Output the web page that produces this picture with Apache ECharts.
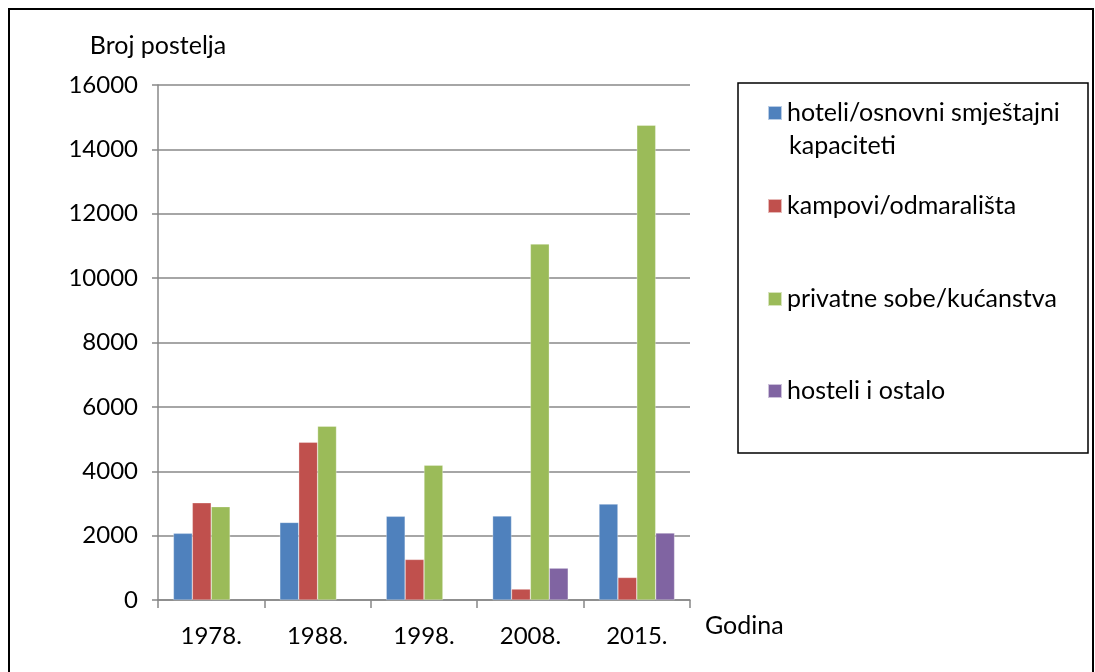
<!DOCTYPE html>
<html><head><meta charset="utf-8">
<script src="https://cdn.jsdelivr.net/npm/echarts@6/dist/echarts.min.js"></script>
<style>html,body{margin:0;padding:0;background:#fff}#c{width:1095px;height:672px}</style>
</head><body><div id="c"></div>
<script>
const categories = ['1978.', '1988.', '1998.', '2008.', '2015.'];
const hoteli = [2070, 2410, 2600, 2610, 2980];
const kampovi = [3020, 4900, 1260, 340, 700];
const privatne = [2900, 5400, 4190, 11060, 14750];
const hosteli = [null, null, null, 990, 2080];
const seriesNames = ['hoteli/osnovni smještajni kapaciteti', 'kampovi/odmarališta', 'privatne sobe/kućanstva', 'hosteli i ostalo'];
const legendLabels = ['hoteli/osnovni smještajni', 'kampovi/odmarališta', 'privatne sobe/kućanstva', 'hosteli i ostalo'];
const colors = ['#4F81BD', '#C0504D', '#9BBB59', '#8064A2'];
const yTicks = { min: 0, max: 16000, interval: 2000 };

const FONT = 'Lato';
const chart = echarts.init(document.getElementById('c'));
const legendCenters = [113, 206, 299, 391];
const legends = seriesNames.map((n, i) => ({
  data: [n], left: 767, top: legendCenters[i] - 15, orient: 'vertical',
  itemWidth: 14, itemHeight: 14, itemGap: 8, padding: 0,
  formatter: () => legendLabels[i],
  textStyle: { fontFamily: FONT, fontSize: 25, color: '#000', lineHeight: 30 },
  icon: 'rect'
}));
const data = [hoteli, kampovi, privatne, hosteli];
chart.setOption({
  animation: false,
  textStyle: { fontFamily: FONT },
  grid: { left: 158, right: 405, top: 85, bottom: 72 },
  legend: legends,
  graphic: [
    { type: 'rect', shape: { x: 9, y: 9, width: 1084, height: 700 }, style: { fill: 'none', stroke: '#000', lineWidth: 2 }, silent: true },
    { type: 'rect', shape: { x: 738, y: 83, width: 350, height: 370 }, style: { fill: 'none', stroke: '#000', lineWidth: 1.5 }, silent: true, z: -1 },
    { type: 'text', x: 789, y: 146, style: { text: 'kapaciteti', font: '25px ' + FONT, fill: '#000', verticalAlign: 'middle' } },
    { type: 'text', x: 705, y: 626, style: { text: 'Godina', font: '25px ' + FONT, fill: '#000', verticalAlign: 'middle' } }
  ],
  xAxis: {
    type: 'category', data: categories,
    axisLine: { lineStyle: { color: '#888', width: 1.5 } },
    axisTick: { show: true, length: 8, lineStyle: { color: '#888', width: 1.5 } },
    axisLabel: { fontFamily: FONT, fontSize: 24, color: '#000', margin: 24 }
  },
  yAxis: {
    type: 'value', min: yTicks.min, max: yTicks.max, interval: yTicks.interval,
    name: 'Broj postelja', nameLocation: 'end', nameGap: 27,
    nameTextStyle: { fontFamily: FONT, fontSize: 25, color: '#000', align: 'center' },
    axisLine: { show: true, lineStyle: { color: '#888', width: 1.5 } },
    axisTick: { show: true, length: 6, lineStyle: { color: '#888', width: 1.5 } },
    axisLabel: { fontFamily: FONT, fontSize: 24, color: '#000', margin: 20, formatter: v => String(v) },
    splitLine: { lineStyle: { color: '#888', width: 1.5 } }
  },
  series: seriesNames.map((n, i) => ({
    name: n, type: 'bar', data: data[i],
    barGap: '0%', barCategoryGap: '29%',
    itemStyle: { color: colors[i], borderColor: 'rgba(255,255,255,0.6)', borderWidth: 0.5 }
  }))
});
</script></body></html>
